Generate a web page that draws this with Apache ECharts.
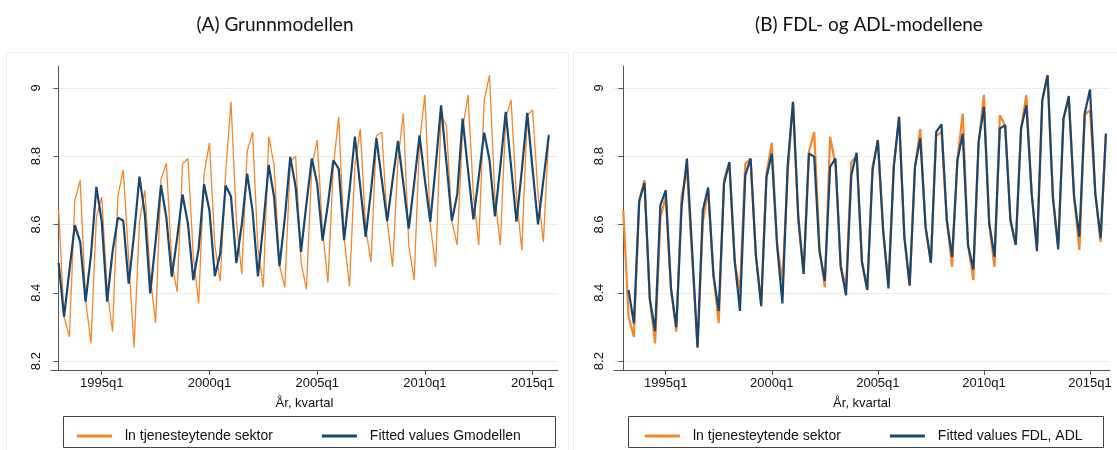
<!DOCTYPE html>
<html>
<head>
<meta charset="utf-8">
<script src="https://cdn.jsdelivr.net/npm/echarts@6/dist/echarts.min.js"></script>
<style>
html,body{margin:0;padding:0;background:#fff;}
#c{width:1117px;height:450px;}
</style>
</head>
<body>
<div id="c"></div>
<script>
// Quarters 1993q1 .. 2015q4
const quarters = [];
for (let y = 1993; y <= 2015; y++) for (let q = 1; q <= 4; q++) quarters.push(y + 'q' + q);

const xTickLabels = ['1995q1', '2000q1', '2005q1', '2010q1', '2015q1'];
const yTickValues = [8.2, 8.4, 8.6, 8.8, 9];

// ln tjenesteytende sektor (observed)
const lnTjeneste = [
  8.642, 8.33, 8.271, 8.669, 8.73, 8.38, 8.252, 8.62, 8.681, 8.41,
  8.286, 8.683, 8.76, 8.50, 8.24, 8.608, 8.70, 8.45, 8.312, 8.732,
  8.779, 8.49, 8.403, 8.777, 8.793, 8.51, 8.369, 8.749, 8.839, 8.54,
  8.434, 8.75, 8.959, 8.61, 8.455, 8.813, 8.871, 8.53, 8.416, 8.857,
  8.774, 8.48, 8.416, 8.783, 8.80, 8.49, 8.41, 8.77, 8.847, 8.58,
  8.43, 8.77, 8.915, 8.56, 8.42, 8.77, 8.88, 8.59, 8.49, 8.86,
  8.87, 8.61, 8.476, 8.79, 8.925, 8.54, 8.437, 8.84, 8.98, 8.60,
  8.476, 8.92, 8.89, 8.61, 8.54, 8.88, 8.979, 8.69, 8.54, 8.963,
  9.037, 8.68, 8.54, 8.91, 8.965, 8.68, 8.525, 8.92, 8.935, 8.69,
  8.549, 8.865
];

// Fitted values Gmodellen
const fittedG = [
  8.488, 8.33, 8.466, 8.598, 8.549, 8.374, 8.51, 8.71, 8.61, 8.374,
  8.52, 8.62, 8.611, 8.427, 8.57, 8.74, 8.63, 8.398, 8.55, 8.715,
  8.62, 8.447, 8.56, 8.688, 8.603, 8.437, 8.53, 8.718, 8.64, 8.449,
  8.515, 8.714, 8.682, 8.487, 8.60, 8.749, 8.64, 8.448, 8.60, 8.774,
  8.68, 8.478, 8.62, 8.798, 8.71, 8.52, 8.66, 8.793, 8.72, 8.553,
  8.66, 8.788, 8.763, 8.554, 8.70, 8.857, 8.71, 8.564, 8.70, 8.853,
  8.73, 8.61, 8.73, 8.845, 8.72, 8.588, 8.72, 8.861, 8.73, 8.608,
  8.77, 8.949, 8.78, 8.611, 8.688, 8.91, 8.76, 8.615, 8.74, 8.869,
  8.788, 8.624, 8.77, 8.93, 8.77, 8.608, 8.76, 8.927, 8.76, 8.60,
  8.73, 8.861
];

// Fitted values FDL, ADL (first quarter missing)
const fittedFDL = [
  null, 8.408, 8.31, 8.668, 8.722, 8.383, 8.288, 8.657, 8.70, 8.413,
  8.299, 8.652, 8.793, 8.52, 8.24, 8.642, 8.708, 8.452, 8.347, 8.72,
  8.783, 8.496, 8.347, 8.744, 8.793, 8.51, 8.361, 8.738, 8.808, 8.54,
  8.369, 8.774, 8.959, 8.622, 8.455, 8.808, 8.798, 8.52, 8.435, 8.769,
  8.793, 8.476, 8.393, 8.744, 8.81, 8.491, 8.408, 8.759, 8.847, 8.583,
  8.413, 8.769, 8.915, 8.564, 8.422, 8.769, 8.852, 8.593, 8.488, 8.871,
  8.893, 8.613, 8.505, 8.788, 8.866, 8.54, 8.468, 8.842, 8.944, 8.603,
  8.505, 8.881, 8.891, 8.613, 8.54, 8.881, 8.949, 8.691, 8.522, 8.964,
  9.037, 8.681, 8.527, 8.91, 8.976, 8.681, 8.564, 8.925, 8.995, 8.691,
  8.559, 8.866
];

const ORANGE = '#f7862a';
const NAVY = '#1a476f';
const FONT = "'Liberation Sans Narrow', 'Arial Narrow', 'Liberation Sans', sans-serif";
const TITLE_FONT = "Lato, 'Open Sans', sans-serif";

const xTickIdx = xTickLabels.map(l => quarters.indexOf(l));
const pairs = arr => arr.map((v, i) => [i, v]);

function xAxisCfg(gridIndex, min, max) {
  return {
    type: 'value', gridIndex, min, max,
    axisLine: {show: true, onZero: false, lineStyle: {color: '#555', width: 1}},
    axisTick: {show: true, length: 5, customValues: xTickIdx, lineStyle: {color: '#555'}},
    axisLabel: {customValues: xTickIdx, formatter: v => quarters[Math.round(v)], color: '#111', fontFamily: FONT, fontSize: 13, margin: 7},
    splitLine: {show: false},
    name: 'År, kvartal', nameLocation: 'middle', nameGap: 27,
    nameTextStyle: {color: '#111', fontFamily: FONT, fontSize: 13}
  };
}
function yAxisCfg(gridIndex) {
  return {
    type: 'value', gridIndex, min: 8.174, max: 9.064,
    axisLine: {show: true, lineStyle: {color: '#555', width: 1}},
    axisTick: {show: true, length: 5, customValues: yTickValues, lineStyle: {color: '#555'}},
    axisLabel: {customValues: yTickValues, rotate: 90, color: '#111', fontFamily: FONT, fontSize: 13, margin: 8,
      formatter: v => String(+v.toFixed(1))},
    splitLine: {show: true, lineStyle: {color: '#e6eef0', width: 1}}
  };
}
const legendText = {fontFamily: FONT, fontSize: 14, color: '#111', padding: [0, 0, 0, 8]};

const chart = echarts.init(document.getElementById('c'), null, {renderer: 'canvas'});
chart.setOption({
  animation: false,
  backgroundColor: '#fff',
  title: [
    {text: '(A) Grunnmodellen', left: 270, top: 10, textAlign: 'center',
      textStyle: {fontFamily: TITLE_FONT, fontSize: 19, fontWeight: 'normal', color: '#111'}},
    {text: '(B) FDL- og ADL-modellene', left: 864, top: 10, textAlign: 'center',
      textStyle: {fontFamily: TITLE_FONT, fontSize: 19, fontWeight: 'normal', color: '#111'}}
  ],
  graphic: [
    {type: 'rect', shape: {x: 6.5, y: 52.5, width: 562, height: 400}, style: {fill: 'none', stroke: '#eeeeee', lineWidth: 1}, silent: true},
    {type: 'rect', shape: {x: 573.5, y: 52.5, width: 560, height: 400}, style: {fill: 'none', stroke: '#eeeeee', lineWidth: 1}, silent: true},
    {type: 'rect', shape: {x: 63.5, y: 416.5, width: 492, height: 31}, style: {fill: '#fff', stroke: '#444', lineWidth: 1}, silent: true, z: -1},
    {type: 'rect', shape: {x: 628.5, y: 416.5, width: 475, height: 31}, style: {fill: '#fff', stroke: '#444', lineWidth: 1}, silent: true, z: -1}
  ],
  legend: [
    {left: 72, top: 424, itemWidth: 35, itemHeight: 3, itemGap: 49, icon: 'rect',
      textStyle: legendText,
      data: ['ln tjenesteytende sektor', 'Fitted values Gmodellen']},
    {left: 640, top: 424, itemWidth: 35, itemHeight: 3, itemGap: 49, icon: 'rect',
      textStyle: legendText,
      data: ['ln tjenesteytende sektor', 'Fitted values FDL, ADL']}
  ],
  grid: [
    {left: 51, top: 66, width: 507, height: 304},
    {left: 614, top: 66, width: 496, height: 304}
  ],
  xAxis: [xAxisCfg(0, -1.42, 92.71), xAxisCfg(1, -1.75, 91.77)],
  yAxis: [yAxisCfg(0), yAxisCfg(1)],
  series: [
    {name: 'ln tjenesteytende sektor', type: 'line', xAxisIndex: 0, yAxisIndex: 0, data: pairs(lnTjeneste),
      showSymbol: false, lineStyle: {color: ORANGE, width: 1.3}, itemStyle: {color: ORANGE}, z: 2},
    {name: 'Fitted values Gmodellen', type: 'line', xAxisIndex: 0, yAxisIndex: 0, data: pairs(fittedG),
      showSymbol: false, lineStyle: {color: NAVY, width: 2.2}, itemStyle: {color: NAVY}, z: 3},
    {name: 'ln tjenesteytende sektor', type: 'line', xAxisIndex: 1, yAxisIndex: 1, data: pairs(lnTjeneste),
      showSymbol: false, lineStyle: {color: ORANGE, width: 2.2}, itemStyle: {color: ORANGE}, z: 2},
    {name: 'Fitted values FDL, ADL', type: 'line', xAxisIndex: 1, yAxisIndex: 1, data: pairs(fittedFDL),
      showSymbol: false, connectNulls: false, lineStyle: {color: NAVY, width: 2.2}, itemStyle: {color: NAVY}, z: 3}
  ]
});
</script>
</body>
</html>
